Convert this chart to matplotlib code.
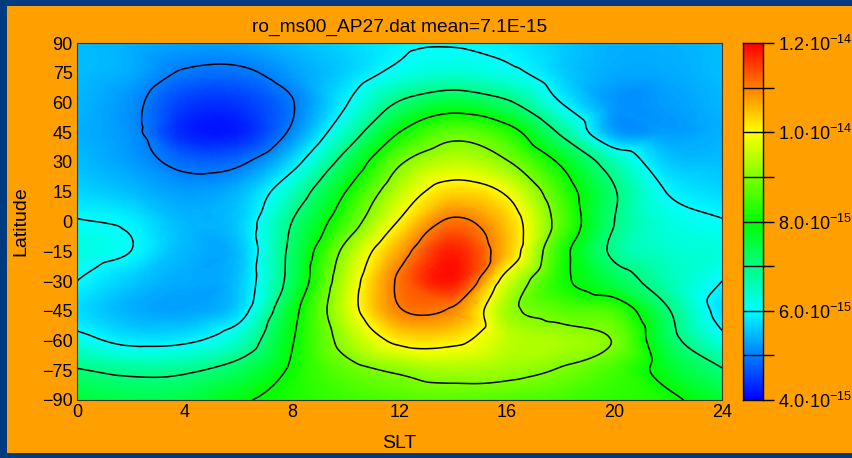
import numpy as np
import matplotlib
matplotlib.use('Agg')
import matplotlib.pyplot as plt
import matplotlib.tri as mtri
from matplotlib.colors import LinearSegmentedColormap, Normalize
from matplotlib.patches import Rectangle

# 字体
plt.rcParams['font.family'] = ['Liberation Sans', 'DejaVu Sans']
plt.rcParams['mathtext.fontset'] = 'custom'
plt.rcParams['mathtext.rm'] = 'Liberation Sans'
plt.rcParams['mathtext.it'] = 'Liberation Sans'
plt.rcParams['mathtext.bf'] = 'Liberation Sans'

# 网格: 本地时 SLT 和纬度
slt = [0, 2, 4, 6, 8, 10, 12, 14, 16, 18, 20, 22, 24]
lat = [90, 75, 60, 45, 30, 15, 0, -15, -30, -45, -60, -75, -90]

# 数值 (单位 1e-15), 每行一个纬度
ro_90 = [5.5, 5.4, 5.3, 5.3, 5.5, 5.7, 5.9, 5.95, 5.85, 5.6, 5.4, 5.4, 5.5]
ro_75 = [5.5, 5.35, 4.95, 4.9, 5.25, 5.65, 6.15, 6.35, 6.15, 5.65, 5.35, 5.35, 5.5]
ro_60 = [5.45, 5.15, 4.5, 4.45, 4.97, 5.95, 7.05, 7.55, 7.1, 6.0, 5.2, 5.25, 5.45]
ro_45 = [5.4, 5.15, 4.3, 4.25, 5.1, 6.5, 8.0, 8.75, 8.3, 6.9, 5.3, 5.25, 5.4]
ro_30 = [5.5, 5.25, 4.85, 4.9, 5.75, 7.3, 8.9, 9.5, 9.05, 7.9, 6.6, 5.6, 5.5]
ro_15 = [5.7, 5.5, 5.25, 5.45, 6.5, 8.0, 9.5, 10.3, 9.9, 8.45, 7.05, 5.97, 5.7]
ro_0 = [6.03, 5.9, 5.45, 5.6, 7.0, 8.5, 10.05, 11.1, 10.4, 8.7, 7.0, 6.25, 6.03]
ro_m15 = [6.25, 6.0, 5.45, 5.5, 7.2, 9.2, 10.7, 11.75, 10.5, 8.3, 6.85, 6.4, 6.25]
ro_m30 = [6.0, 5.6, 5.35, 5.55, 7.3, 9.5, 11.1, 11.8, 9.7, 8.2, 7.4, 6.6, 6.0]
ro_m45 = [5.75, 5.4, 5.3, 5.7, 7.75, 9.6, 10.95, 10.9, 9.25, 8.7, 8.5, 7.05, 5.75]
ro_m60 = [6.2, 5.85, 5.9, 6.45, 7.95, 9.25, 10.15, 10.15, 9.5, 9.3, 8.95, 7.3, 6.2]
ro_m75 = [7.05, 6.85, 6.9, 7.3, 8.1, 8.75, 9.1, 9.3, 9.2, 8.95, 8.5, 7.7, 7.05]
ro_m90 = [7.6, 7.45, 7.5, 7.9, 8.2, 8.45, 8.6, 8.65, 8.6, 8.5, 8.35, 8.15, 7.6]

levels = [4, 5, 6, 7, 8, 9, 10, 11, 12]
cb_labels = ['4.0·10$^{-15}$', '', '6.0·10$^{-15}$', '', '8.0·10$^{-15}$', '',
             '1.0·10$^{-14}$', '', '1.2·10$^{-14}$']
title = 'ro_ms00_AP27.dat mean=7.1E-15'

z = np.array([ro_90, ro_75, ro_60, ro_45, ro_30, ro_15, ro_0,
              ro_m15, ro_m30, ro_m45, ro_m60, ro_m75, ro_m90])

# 颜色表: 蓝-青-绿-黄-红
cmap = LinearSegmentedColormap.from_list(
    'rb', ['#0000ff', '#0080ff', '#00ffff', '#00ff80', '#00ff00',
           '#80ff00', '#ffff00', '#ff8000', '#ff0000'])
norm = Normalize(4, 12)

X, Y = np.meshgrid(slt, lat)
tri = mtri.Triangulation(X.ravel(), Y.ravel())
interp = mtri.CubicTriInterpolator(tri, z.ravel(), kind='geom')
refiner = mtri.UniformTriRefiner(tri)
tri_f, z_f = refiner.refine_field(z.ravel(), triinterpolator=interp, subdiv=4)

fig = plt.figure(figsize=(8.52, 4.58), dpi=100)
fig.patch.set_facecolor('#003b80')
fig.patches.append(Rectangle((7 / 852, 5 / 458), 1, 447 / 458, transform=fig.transFigure,
                             facecolor='#ffa000', edgecolor='none', zorder=-1))

ax = fig.add_axes([77 / 852, 1 - 400 / 458, 645 / 852, 357 / 458])
ax.tripcolor(tri_f, z_f, cmap=cmap, norm=norm, shading='gouraud')
ax.tricontour(tri_f, z_f, levels=levels[1:-1], colors='black', linewidths=1.1)
ax.set_xlim(0, 24)
ax.set_ylim(-90, 90)
ax.set_xticks(range(0, 25, 4))
ax.set_yticks(range(-90, 91, 15))
ax.tick_params(length=0, labelsize=13, pad=3)
ax.set_xlabel('SLT', fontsize=14, labelpad=10)
ax.set_ylabel('Latitude', fontsize=14, labelpad=9)
ax.set_title(title, fontsize=13.8, pad=8)
for s in ax.spines.values():
    s.set_linewidth(0.8)
    s.set_color('#333333')

# 色标
cax = fig.add_axes([743 / 852, 1 - 400 / 458, 20 / 852, 357 / 458])
grad = np.linspace(4, 12, 256).reshape(-1, 1)
cax.imshow(grad, extent=[0, 1, 4, 12], origin='lower', aspect='auto', cmap=cmap, norm=norm)
for lv in levels[1:-1]:
    cax.axhline(lv, color='black', lw=1.0)
cax.set_xlim(0, 1)
cax.set_ylim(4, 12)
cax.set_xticks([])
cax.yaxis.tick_right()
cax.set_yticks(levels)
cax.set_yticklabels(cb_labels)
cax.tick_params(axis='y', length=8, width=1.0, labelsize=13, pad=3)
for s in cax.spines.values():
    s.set_linewidth(1.0)

fig.savefig('out.png', dpi=100, facecolor=fig.get_facecolor())
